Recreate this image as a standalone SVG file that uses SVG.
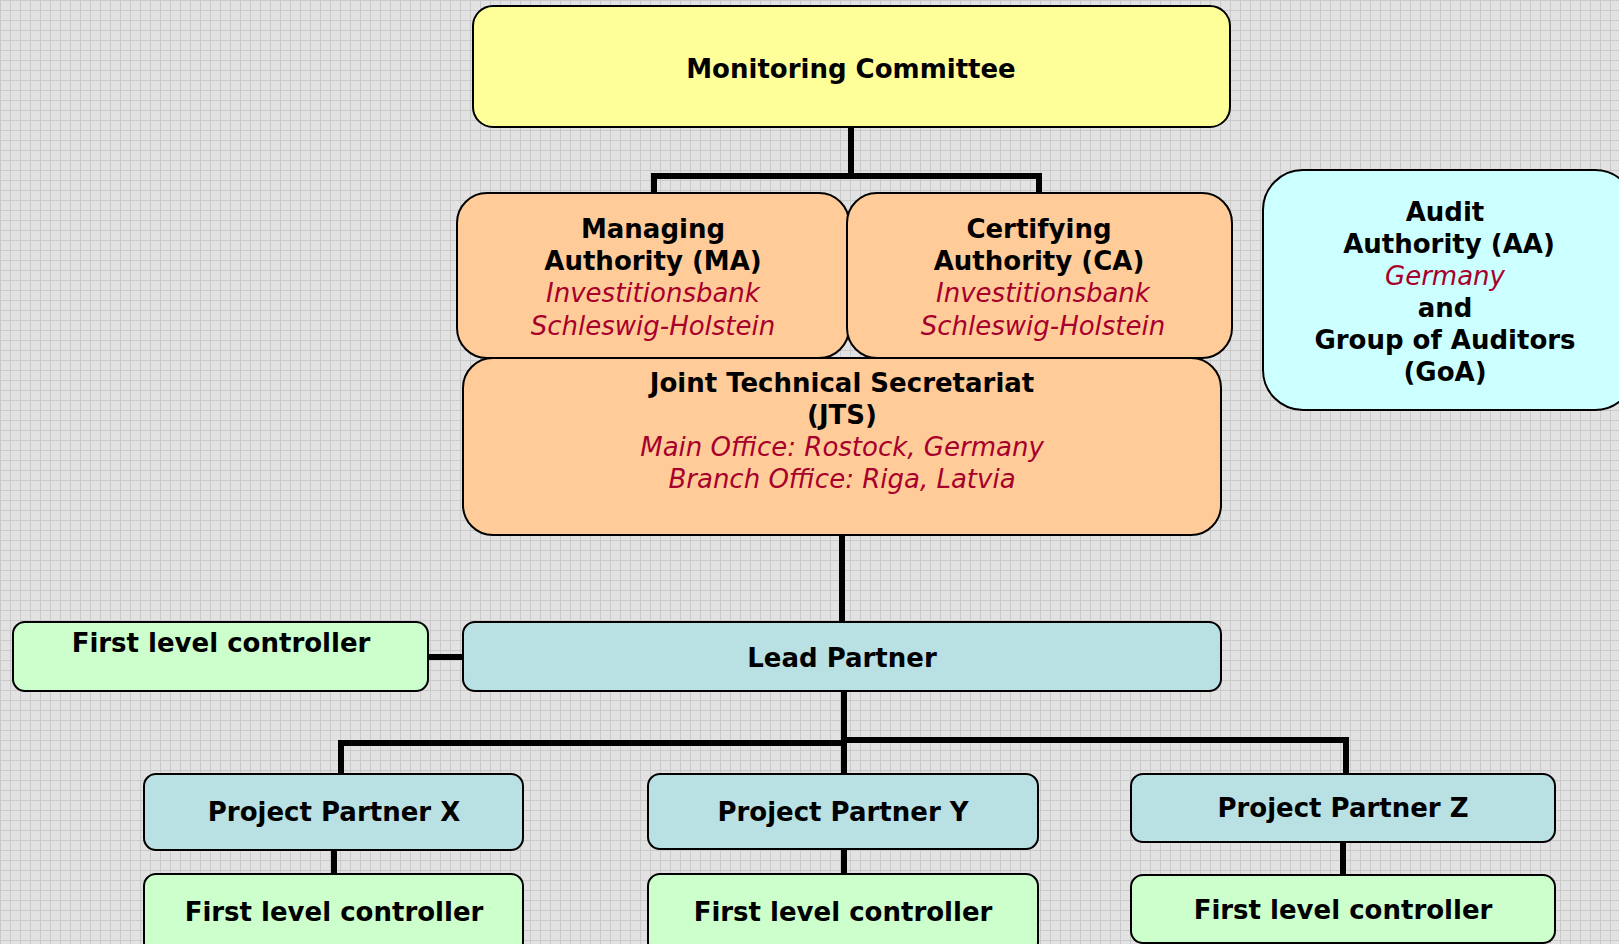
<svg xmlns="http://www.w3.org/2000/svg" width="1619" height="944" viewBox="0 0 1619 944">
<defs>
<pattern id="grid" width="10" height="10" patternUnits="userSpaceOnUse">
<rect width="10" height="10" fill="#e2e2e2"/>
<path d="M0 0.5H10M0.5 0V10" stroke="#cacaca" stroke-width="1" fill="none"/>
</pattern>
<style>
.box{stroke:#000;stroke-width:2}
.mc{fill:#ffff99}
.org{fill:#ffcc99}
.aud{fill:#ccffff}
.flc{fill:#ccffcc}
.pp{fill:#b9e0e3}
.t{font-family:"DejaVu Sans","Verdana",sans-serif;font-size:26px;font-weight:bold;fill:#000;text-anchor:middle}
.i{font-family:"DejaVu Sans","Verdana",sans-serif;font-size:26px;font-style:italic;font-weight:normal;fill:#a8002c;text-anchor:middle}
.c{fill:none;stroke:#000;stroke-width:6}
</style>
</defs>
<rect width="1619" height="944" fill="url(#grid)"/>
<g id="connectors">
<path class="c" d="M851 127V176M654 193V176H1039V193"/>
<path class="c" d="M842 535V622"/>
<path class="c" d="M428 657H463"/>
<path class="c" d="M844 691V773"/>
<path class="c" d="M844 743H341V773"/>
<path class="c" d="M844 740H1346V773"/>
<path class="c" d="M334 850V874"/>
<path class="c" d="M844 849V874"/>
<path class="c" d="M1343 842V875"/>
</g>
<g id="monitoring-committee">
<rect class="box mc" x="473" y="6" width="757" height="121" rx="20"/>
<text class="t" x="851" y="78">Monitoring Committee</text>
</g>
<g id="managing-authority">
<rect class="box org" x="457" y="193" width="392" height="165" rx="30"/>
<text class="t" x="653" y="238">Managing</text>
<text class="t" x="653" y="270">Authority (MA)</text>
<text class="i" x="653" y="302">Investitionsbank</text>
<text class="i" x="653" y="335">Schleswig-Holstein</text>
</g>
<g id="certifying-authority">
<rect class="box org" x="847" y="193" width="385" height="165" rx="30"/>
<text class="t" x="1039" y="238">Certifying</text>
<text class="t" x="1039" y="270">Authority (CA)</text>
<text class="i" x="1043" y="302">Investitionsbank</text>
<text class="i" x="1043" y="335">Schleswig-Holstein</text>
</g>
<g id="jts">
<rect class="box org" x="463" y="358" width="758" height="177" rx="30"/>
<text class="t" x="842" y="392">Joint Technical Secretariat</text>
<text class="t" x="842" y="424">(JTS)</text>
<text class="i" x="842" y="456">Main Office: Rostock, Germany</text>
<text class="i" x="842" y="488">Branch Office: Riga, Latvia</text>
</g>
<g id="audit-authority">
<rect class="box aud" x="1263" y="170" width="372" height="240" rx="40"/>
<text class="t" x="1445" y="221">Audit</text>
<text class="t" x="1449" y="253">Authority (AA)</text>
<text class="i" x="1445" y="285">Germany</text>
<text class="t" x="1445" y="317">and</text>
<text class="t" x="1445" y="349">Group of Auditors</text>
<text class="t" x="1445" y="381">(GoA)</text>
</g>
<g id="flc-lead">
<rect class="box flc" x="13" y="622" width="415" height="69" rx="12"/>
<text class="t" x="221" y="652">First level controller</text>
</g>
<g id="lead-partner">
<rect class="box pp" x="463" y="622" width="758" height="69" rx="12"/>
<text class="t" x="842" y="667">Lead Partner</text>
</g>
<g id="project-partner-x">
<rect class="box pp" x="144" y="774" width="379" height="76" rx="12"/>
<text class="t" x="334" y="821">Project Partner X</text>
</g>
<g id="project-partner-y">
<rect class="box pp" x="648" y="774" width="390" height="75" rx="12"/>
<text class="t" x="843" y="821">Project Partner Y</text>
</g>
<g id="project-partner-z">
<rect class="box pp" x="1131" y="774" width="424" height="68" rx="12"/>
<text class="t" x="1343" y="817">Project Partner Z</text>
</g>
<g id="flc-x">
<rect class="box flc" x="144" y="874" width="379" height="80" rx="12"/>
<text class="t" x="334" y="921">First level controller</text>
</g>
<g id="flc-y">
<rect class="box flc" x="648" y="874" width="390" height="80" rx="12"/>
<text class="t" x="843" y="921">First level controller</text>
</g>
<g id="flc-z">
<rect class="box flc" x="1131" y="875" width="424" height="68" rx="12"/>
<text class="t" x="1343" y="919">First level controller</text>
</g>
</svg>
